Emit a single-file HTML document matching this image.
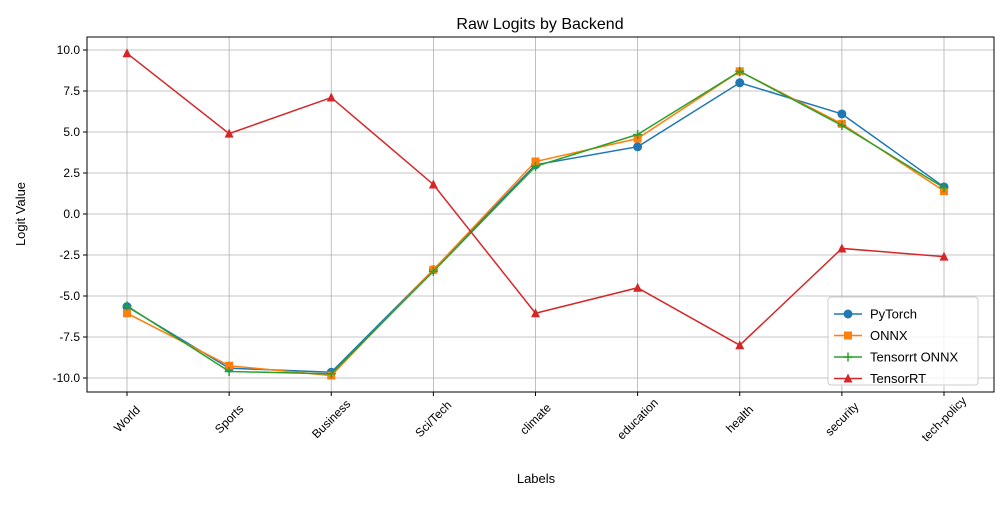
<!DOCTYPE html>
<html><head><meta charset="utf-8"><style>
body{margin:0;background:#fff;font-family:"Liberation Sans",sans-serif;}
svg text{font-family:"Liberation Sans",sans-serif;}
</style></head><body>
<svg id="chart" width="1000" height="500" xmlns="http://www.w3.org/2000/svg">
<rect width="1000" height="500" fill="#fff"/>
<text x="540" y="29" text-anchor="middle" font-size="16">Raw Logits by Backend</text>
<g id="grid"></g><g id="axes"></g><g id="series"></g>
<text x="536" y="483" text-anchor="middle" font-size="13">Labels</text>
<text transform="translate(25,214) rotate(-90)" text-anchor="middle" font-size="13">Logit Value</text>
<g id="legend"></g>
</svg>
<script>
const categories=["World","Sports","Business","Sci/Tech","climate","education","health","security","tech-policy"];
const pytorch=[-5.65,-9.4,-9.65,-3.4,3.0,4.1,8.0,6.1,1.65];
const onnx=[-6.05,-9.25,-9.85,-3.4,3.2,4.6,8.7,5.5,1.4];
const trtOnnx=[-5.6,-9.6,-9.75,-3.5,2.9,4.85,8.7,5.4,1.6];
const tensorrt=[9.8,4.9,7.1,1.8,-6.05,-4.5,-8.0,-2.1,-2.6];
const yTicks=[-10,-7.5,-5,-2.5,0,2.5,5,7.5,10];
const seriesNames=["PyTorch","ONNX","Tensorrt ONNX","TensorRT"];
const NS="http://www.w3.org/2000/svg";
const L=87,R=994,T=37,B=392;
const xs=i=>127+i*(944-127)/8;
const ys=v=>214-v*16.4;
function mk(tag,attrs,parent){const e=document.createElementNS(NS,tag);for(const k in attrs)e.setAttribute(k,attrs[k]);parent.appendChild(e);return e;}
const grid=document.getElementById('grid'),axes=document.getElementById('axes'),ser=document.getElementById('series'),leg=document.getElementById('legend');
categories.forEach((c,i)=>{
  const g=mk('line',{x1:xs(i),x2:xs(i),y1:T,y2:B,stroke:'#b0b0b0','stroke-width':0.8},grid);
  
  
  mk('line',{x1:xs(i),x2:xs(i),y1:B,y2:B+4,stroke:'#000'},axes);
  const cx=xs(i), cy=B+27;
  const t=mk('text',{x:cx,y:cy+4,'text-anchor':'middle','font-size':12,transform:`rotate(-45 ${cx} ${cy})`},axes);
  t.textContent=c;
  
  
});
yTicks.forEach(v=>{
  const g=mk('line',{x1:L,x2:R,y1:ys(v),y2:ys(v),stroke:'#b0b0b0','stroke-width':0.8},grid);
  
  
  mk('line',{x1:L-4,x2:L,y1:ys(v),y2:ys(v),stroke:'#000'},axes);
  const t=mk('text',{x:L-7,y:ys(v)+4,'text-anchor':'end','font-size':12},axes);
  t.textContent=v.toFixed(1);
  
  
});
const frame=mk('rect',{x:L,y:T,width:R-L,height:B-T,fill:'none',stroke:'#000','stroke-width':1},axes);


const colors=['#1f77b4','#ff7f0e','#2ca02c','#d62728'];
const markers=['circle','square','plus','triangle'];
function marker(type,x,y,c,p){
  if(type==='circle')return mk('circle',{cx:x,cy:y,r:4.5,fill:c},p);
  if(type==='square')return mk('rect',{x:x-4,y:y-4,width:8,height:8,fill:c},p);
  if(type==='plus')return mk('path',{d:`M${x-4.5} ${y}H${x+4.5}M${x} ${y-4.5}V${y+4.5}`,stroke:c,'stroke-width':1.5},p);
  return mk('polygon',{points:`${x},${y-5} ${x-4.5},${y+4} ${x+4.5},${y+4}`,fill:c},p);
}
[pytorch,onnx,trtOnnx,tensorrt].forEach((d,s)=>{
  const g=mk('g',{},ser);
  
  
  const pl=mk('polyline',{points:d.map((v,i)=>xs(i)+','+ys(v)).join(' '),fill:'none',stroke:colors[s],'stroke-width':1.5},g);
  
  
  d.forEach((v,i)=>{
    const m=marker(markers[s],xs(i),ys(v),colors[s],g);
    
    
  });
});
mk('rect',{x:828,y:297,width:150,height:88,rx:3,fill:'#fff','fill-opacity':0.8,stroke:'#ccc'},leg);
seriesNames.forEach((n,s)=>{
  const y=314+s*21.5;
  const e=mk('g',{},leg);
  
  
  mk('line',{x1:834,x2:862,y1:y,y2:y,stroke:colors[s],'stroke-width':1.5},e);
  marker(markers[s],848,y,colors[s],e);
  const t=mk('text',{x:870,y:y+4.5,'font-size':13},e);
  t.textContent=n;
});
</script>
</body></html>
